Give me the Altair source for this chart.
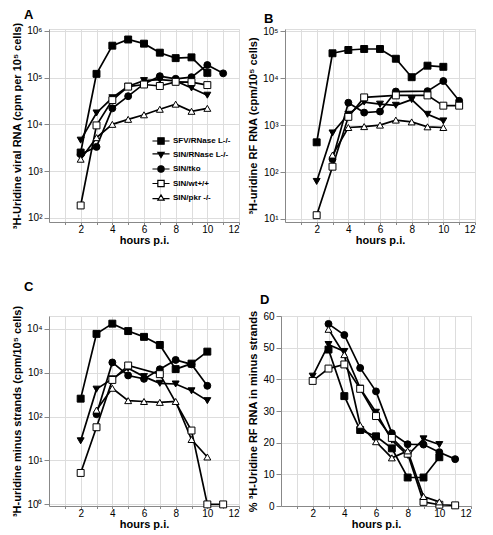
import altair as alt
import pandas as pd

hours = [2, 3, 4, 5, 6, 7, 8, 9, 10, 11]
series = ["SFV/RNase L-/-", "SIN/RNase L-/-", "SIN/tko", "SIN/wt+/+", "SIN/pkr -/-"]

# Panel A: 3H-Uridine viral RNA (cpm per 10^5 cells)
a_sfv = [2500, 1.2e5, 4.8e5, 6.5e5, 5.3e5, 3.4e5, 2.6e5, 2.7e5, 1.26e5, None]
a_sin_rnl = [4600, 1.75e4, 3.7e4, 6.5e4, 8.6e4, 9.0e4, 8.5e4, 6.0e4, 4.2e4, None]
a_sin_tko = [2300, 3300, 2.2e4, 4.0e4, 7.3e4, 1.07e5, 9.4e4, 1.02e5, 1.85e5, 1.23e5]
a_sin_wt = [185, 9500, 3.3e4, 6.4e4, 7.1e4, 6.6e4, 8.1e4, 8.0e4, 6.9e4, None]
a_sin_pkr = [1800, 5200, 1.0e4, 1.28e4, 1.6e4, 2.1e4, 2.7e4, 1.9e4, 2.2e4, None]

# Panel B: 3H-uridine RF RNA (cpm/10^5 cells)
b_sfv = [430, 3.4e4, 4.0e4, 4.2e4, 4.2e4, 2.6e4, 1.05e4, 1.85e4, 1.75e4, None]
b_sin_rnl = [63, 680, 1700, 3100, 2800, 2650, 3500, 1700, 1230, None]
b_sin_tko = [None, 188, 3000, 1850, 1950, 5200, None, 5300, 8700, 3300]
b_sin_wt = [12, 130, 1500, 3900, None, 4300, None, 4300, 2600, 2600]
b_sin_pkr = [None, 230, 890, 930, 1000, 1280, 1170, 920, 890, None]

# Panel C: 3H-uridine minus strands (cpm/10^5 cells)
c_sfv = [255, 7600, 1.3e4, 8800, 6500, 4250, 1200, 1600, 3000, None]
c_sin_rnl = [28, 420, 720, 1250, 810, 570, 550, 385, 230, None]
c_sin_tko = [None, 113, 1700, 860, 720, 1190, 1940, 1540, 500, None]
c_sin_wt = [5.2, 57, 680, 1450, None, 920, None, 48, 1.0, 1.0]
c_sin_pkr = [None, 140, 440, 230, 220, 210, 220, 30, 12, None]

# Panel D: % 3H-Uridine RF RNA in minus strands
d_sfv = [None, 49.4, 34.7, 24.0, 22.0, 18.2, 9.0, 9.0, 15.4, None]
d_sin_rnl = [41.0, 51.0, 48.8, 37.2, 29.6, 20.8, 16.0, 21.2, 19.4, None]
d_sin_tko = [None, 57.5, 54.0, 43.6, 36.2, 23.0, 19.5, 19.4, 17.0, 14.8]
d_sin_wt = [39.5, 43.4, 44.7, 37.0, 28.4, 21.5, 16.5, 1.3, 0.4, 0.2]
d_sin_pkr = [None, 55.8, 47.8, 25.5, 20.3, 15.2, 17.4, 3.0, 1.3, None]

shapes = ["square", "triangle-down", "circle", "square", "triangle-up"]
fills = ["black", "black", "black", "white", "white"]
legend_paths = [
    "M-2.7,0H-1M1,0H2.7M-1,-1H1V1H-1Z",
    "M-2.7,-0.2H-0.65M0.65,-0.2H2.7M-1,-0.7H1L0,1Z",
    "M-2.7,0H-1M1,0H2.7M1,0A1,1,0,1,1,-1,0A1,1,0,1,1,1,0Z",
    "M-2.7,0H-1M1,0H2.7M-1,-1H1V1H-1Z",
    "M-2.7,0.2H-0.65M0.65,0.2H2.7M-1,0.7H1L0,-1Z",
]

FONT = "Liberation Sans"
SUP = "'10' + substring('⁰¹²³⁴⁵⁶⁷⁸⁹', round(log(datum.value)/LN10), round(log(datum.value)/LN10) + 1)"


def frame(cols):
    rows = []
    for s, vals in zip(series, cols):
        for h, v in zip(hours, vals):
            if v is not None:
                rows.append({"hours": h, "series": s, "value": v})
    return pd.DataFrame(rows)


def panel(df, letter, dx, toffset, ytitle, yscale, yvalues, ylabelexpr, height, legend=False):
    base = alt.Chart(df)
    x = alt.X(
        "hours:Q",
        scale=alt.Scale(domain=[0, 12], nice=False),
        axis=alt.Axis(
            values=list(range(1, 13)),
            labelExpr="datum.value % 2 == 0 ? datum.label : ''",
            title="hours p.i.",
            tickSize=2.5,
            labelBaseline="middle",
            labelPadding=5,
            titleY=18.5,
            titleBaseline="middle",
            titleFontSize=11,
        ),
    )
    if ylabelexpr:
        yaxis = alt.Axis(values=yvalues, title=ytitle, labelExpr=ylabelexpr)
    else:
        yaxis = alt.Axis(values=yvalues, title=ytitle)
    y = alt.Y("value:Q", scale=yscale, axis=yaxis)
    lines = base.mark_line(color="black", strokeWidth=1.7).encode(
        x=x, y=y, detail="series:N"
    )
    layers = [lines]
    for s, shp, fl in zip(series, shapes, fills):
        layers.append(
            base.transform_filter(alt.datum.series == s)
            .mark_point(shape=shp, filled=True, fill=fl, stroke="black",
                        strokeWidth=1, opacity=1, fillOpacity=1, size=48)
            .encode(x=x, y=y)
        )
    if legend:
        leg_props = dict(
            orient="none",
            legendX=108,
            legendY=108,
            title=None,
            labelFont=FONT,
            labelFontSize=8,
            labelFontWeight="bold",
            labelColor="black",
            symbolSize=40,
            symbolStrokeWidth=1.2,
            labelOffset=8,
            rowPadding=2.5,
            padding=0,
        )
        leg = base.transform_filter("datum.value < 0").mark_point(
            strokeWidth=1.2, opacity=1, fillOpacity=1
        ).encode(
            shape=alt.Shape("series:N", scale=alt.Scale(domain=series, range=legend_paths),
                            legend=alt.Legend(**leg_props)),
            fill=alt.Fill("series:N", scale=alt.Scale(domain=series, range=fills),
                          legend=alt.Legend(**leg_props)),
            stroke=alt.Stroke("series:N", scale=alt.Scale(domain=series, range=["black"] * 5),
                              legend=alt.Legend(**leg_props)),
        )
        layers.append(leg)
    ch = alt.layer(*layers).properties(
        width=190,
        height=height,
        title=alt.TitleParams(letter, anchor="start", frame="group", dx=dx, offset=toffset),
    )
    return ch


pA = panel(
    frame([a_sfv, a_sin_rnl, a_sin_tko, a_sin_wt, a_sin_pkr]), "A", -25, 0,
    "³H-Uridine viral RNA (cpm per 10⁵ cells)",
    alt.Scale(type="log", domain=[82, 1.09e6], nice=False),
    [100, 1000, 10000, 100000, 1000000], SUP, 193, legend=True,
)
pB = panel(
    frame([b_sfv, b_sin_rnl, b_sin_tko, b_sin_wt, b_sin_pkr]), "B", -21, 0,
    "³H-uridine RF RNA (cpm/10⁵ cells)",
    alt.Scale(type="log", domain=[8.6, 1.12e5], nice=False),
    [10, 100, 1000, 10000, 100000], SUP, 193,
)
pC = panel(
    frame([c_sfv, c_sin_rnl, c_sin_tko, c_sin_wt, c_sin_pkr]), "C", -25, 11,
    "³H-uridine minus strands (cpm/10⁵ cells)",
    alt.Scale(type="log", domain=[0.92, 19400], nice=False),
    [1, 10, 100, 1000, 10000], SUP, 190,
)
pD = panel(
    frame([d_sfv, d_sin_rnl, d_sin_tko, d_sin_wt, d_sin_pkr]), "D", -21, 3,
    "% ³H-Uridine RF RNA in minus strands",
    alt.Scale(domain=[0, 60], nice=False),
    [0, 10, 20, 30, 40, 50, 60], None, 190,
)

chart = alt.vconcat(
    alt.hconcat(pA, pB, spacing=7),
    alt.hconcat(pC, pD, spacing=7),
    spacing=34,
).properties(
    padding={"left": 3, "top": 0, "right": 0, "bottom": 0}
).configure_view(stroke=None).configure_axis(
    labelFont=FONT,
    labelFontSize=10,
    labelFontWeight="bold",
    labelColor="black",
    titleFont=FONT,
    titleFontSize=10.5,
    titleFontWeight="bold",
    titleColor="black",
    domainColor="black",
    domainWidth=1.5,
    tickColor="black",
    tickWidth=1.2,
    tickSize=3,
    labelPadding=1,
    titlePadding=3,
    grid=False,
).configure_title(
    font=FONT, fontSize=17, fontWeight="bold", color="black"
).configure(background="white")

chart.save("out.html", embed_options={"renderer": "svg", "actions": False})
